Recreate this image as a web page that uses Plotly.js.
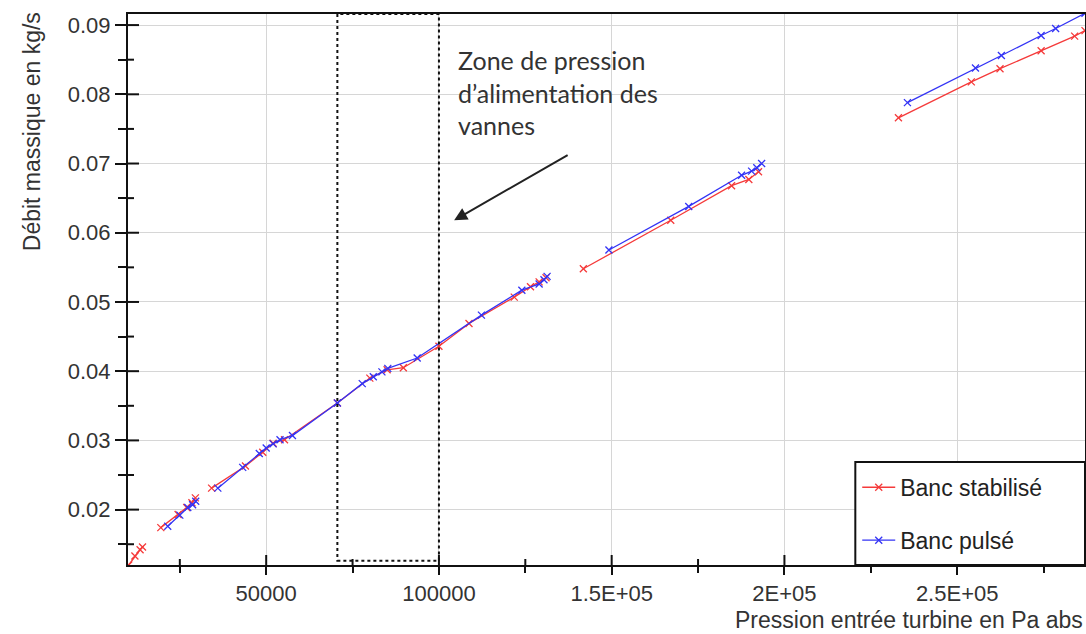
<!DOCTYPE html>
<html>
<head>
<meta charset="utf-8">
<script src="https://cdn.plot.ly/plotly-3.0.1.min.js"></script>
<style>html,body{margin:0;padding:0;background:#fff;}#chart{width:1086px;height:634px;}</style>
</head>
<body>
<div id="chart"></div>
<script>
// Banc stabilisé (red) — null separates measurement series
const stabX = [10200, 12000, 13500, 14200, null,
  19500, 24500, 27000, 28500, 29500, null,
  34200, 44000, 49000, 52000, 55300, 70600, 80000, 85000, 89700, 100000, 108700, 121800, 126500, 129000, 131000, null,
  141800, 167100, 184700, 189700, 192500, null,
  233000, 254100, 262400, 274300, 284000, 287000];
const stabY = [0.0120, 0.0133, 0.0142, 0.0146, null,
  0.0174, 0.0193, 0.0203, 0.0210, 0.0217, null,
  0.0231, 0.0263, 0.0283, 0.0296, 0.0301, 0.0354, 0.0390, 0.0402, 0.0405, 0.0436, 0.0469, 0.0507, 0.0522, 0.0529, 0.0535, null,
  0.0548, 0.0618, 0.0668, 0.0677, 0.0688, null,
  0.0766, 0.0818, 0.0837, 0.0863, 0.0884, 0.0892];

// Banc pulsé (blue)
const pulsX = [21500, 25000, 27300, 28700, 29600, null,
  36000, 43200, 48000, 50000, 52000, 54000, 57600, 70600, 77800, 81000, 83500, 85200, 93700, 112300, 124000, 129000, 130400, 131300, null,
  149200, 172300, 187600, 190500, 192000, 193400, null,
  235600, 255300, 262800, 274300, 278500, 287000];
const pulsY = [0.0176, 0.0192, 0.0203, 0.0207, 0.0212, null,
  0.0231, 0.0261, 0.0281, 0.0289, 0.0295, 0.0301, 0.0307, 0.0354, 0.0382, 0.0392, 0.0399, 0.0404, 0.0419, 0.0481, 0.0517, 0.0526, 0.0532, 0.0537, null,
  0.0575, 0.0638, 0.0683, 0.0689, 0.0694, 0.0700, null,
  0.0788, 0.0838, 0.0856, 0.0885, 0.0895, 0.0917];

const xTickVals = [50000, 100000, 150000, 200000, 250000];
const xTickText = ["50000", "100000", "1.5E+05", "2E+05", "2.5E+05"];
const yTickVals = [0.02, 0.03, 0.04, 0.05, 0.06, 0.07, 0.08, 0.09];
const yTickText = ["0.02", "0.03", "0.04", "0.05", "0.06", "0.07", "0.08", "0.09"];

const zoneX = [70600, 100000];
const zoneY = [0.0126, 0.0916];

const xRange = [10000, 287000];
const yRange = [0.012, 0.0916];

const RED = '#f53a3a';
const BLUE = '#3333f5';
const tickFont = {family: 'Liberation Sans, Arial, sans-serif', size: 22, color: '#333'};

const traces = [
  {x: stabX, y: stabY, name: 'Banc stabilisé', type: 'scatter', mode: 'lines+markers',
   connectgaps: false, legendgroup: 'a',
   line: {color: RED, width: 1.3},
   marker: {symbol: 'x-thin', size: 7, color: RED, line: {color: RED, width: 1.3}}},
  {x: pulsX, y: pulsY, name: 'Banc pulsé', type: 'scatter', mode: 'lines+markers',
   connectgaps: false, legendgroup: 'b',
   line: {color: BLUE, width: 1.3},
   marker: {symbol: 'x-thin', size: 7, color: BLUE, line: {color: BLUE, width: 1.3}}}
];

const layout = {
  width: 1086, height: 634,
  margin: {l: 128, r: 1, t: 14, b: 69},
  paper_bgcolor: '#fff', plot_bgcolor: '#fff',
  showlegend: true,
  legend: {x: 0.762, y: 0.18, xanchor: 'left', yanchor: 'top',
    bgcolor: 'rgba(0,0,0,0)', borderwidth: 0,
    font: {family: 'Liberation Sans, Arial, sans-serif', size: 23, color: '#222'},
    tracegroupgap: 20, itemwidth: 33},
  xaxis: {range: xRange, tickmode: 'array', tickvals: xTickVals, ticktext: xTickText,
    showgrid: true, gridcolor: '#d6d6d6', gridwidth: 1, zeroline: false,
    showline: true, linecolor: '#111', linewidth: 2, mirror: true,
    ticks: 'outside', ticklen: 8, tickwidth: 2, tickcolor: '#111',
    minor: {dtick: 25000, tick0: 0, ticks: 'outside', ticklen: 6, tickwidth: 2, tickcolor: '#111', showgrid: false},
    tickfont: tickFont},
  yaxis: {range: yRange, tickmode: 'array', tickvals: yTickVals, ticktext: yTickText,
    showgrid: true, gridcolor: '#d6d6d6', gridwidth: 1, zeroline: false,
    showline: true, linecolor: '#111', linewidth: 2, mirror: true,
    ticks: 'outside', ticklen: 11, tickwidth: 2, tickcolor: '#111',
    minor: {dtick: 0.005, tick0: 0, ticks: 'outside', ticklen: 8, tickwidth: 2, tickcolor: '#111', showgrid: false},
    tickfont: tickFont},
  shapes: [
    {type: 'rect', xref: 'x', yref: 'y', x0: zoneX[0], x1: zoneX[1], y0: zoneY[0], y1: zoneY[1],
     line: {color: '#111', width: 2, dash: 'dot'}, fillcolor: 'rgba(0,0,0,0)', layer: 'above'},
    {type: 'rect', xref: 'paper', yref: 'paper', x0: 0.76, x1: 1, y0: 0, y1: 0.187,
     line: {color: '#111', width: 2}, fillcolor: '#fff', layer: 'above'}
  ],
  annotations: [
    {xref: 'x', yref: 'y', x: 105000, y: 0.0874, xanchor: 'left', yanchor: 'top', align: 'left',
     showarrow: false, text: 'Zone de pression<br>d’alimentation des<br>vannes',
     font: {family: 'Lato, Open Sans, sans-serif', size: 25, color: '#333'}},
    {xref: 'x', yref: 'y', x: 104400, y: 0.0618, ax: 115, ay: -66, axref: 'pixel', ayref: 'pixel',
     text: '', showarrow: true, arrowhead: 2, arrowsize: 1.3, arrowwidth: 2, arrowcolor: '#222'},
    {xref: 'paper', yref: 'paper', x: -0.1, y: 0.786, xanchor: 'center', yanchor: 'middle',
     textangle: -90, showarrow: false, text: 'Débit massique en kg/s',
     font: {family: 'Liberation Sans, Arial, sans-serif', size: 23, color: '#333'}},
    {xref: 'paper', yref: 'paper', x: 1, y: -0.1, xanchor: 'right', yanchor: 'middle',
     showarrow: false, text: 'Pression entrée turbine en Pa abs',
     font: {family: 'Liberation Sans, Arial, sans-serif', size: 23, color: '#333'}}
  ]
};

// inward half of the crossing tick marks (reference axes have ticks on both sides of the line)
function addInnerTicks(gd) {
  const fl = gd._fullLayout;
  const xa = fl.xaxis, ya = fl.yaxis;
  const svg = gd.querySelector('.main-svg');
  const ns = 'http://www.w3.org/2000/svg';
  const g = document.createElementNS(ns, 'g');
  const x0 = fl.margin.l, yb = fl.margin.t + ya._length;
  function seg(x1, y1, x2, y2) {
    const l = document.createElementNS(ns, 'line');
    l.setAttribute('x1', x1); l.setAttribute('y1', y1);
    l.setAttribute('x2', x2); l.setAttribute('y2', y2);
    l.setAttribute('stroke', '#111'); l.setAttribute('stroke-width', 2);
    g.appendChild(l);
  }
  for (let v = 25000; v < xRange[1]; v += 25000) {
    if (v <= xRange[0]) continue;
    const px = x0 + xa.l2p(v);
    const major = v % 50000 === 0;
    seg(px, yb, px, yb - (major ? 10 : 6));
  }
  for (let k = 3; k <= 18; k++) {
    const v = k * 0.005;
    if (v <= yRange[0] || v >= yRange[1]) continue;
    const py = fl.margin.t + ya.l2p(v);
    const major = k % 2 === 0;
    seg(x0, py, x0 + (major ? 11 : 6), py);
  }
  svg.appendChild(g);
}

Plotly.newPlot('chart', traces, layout, {displayModeBar: false, staticPlot: true}).then(addInnerTicks);
</script>
</body>
</html>
